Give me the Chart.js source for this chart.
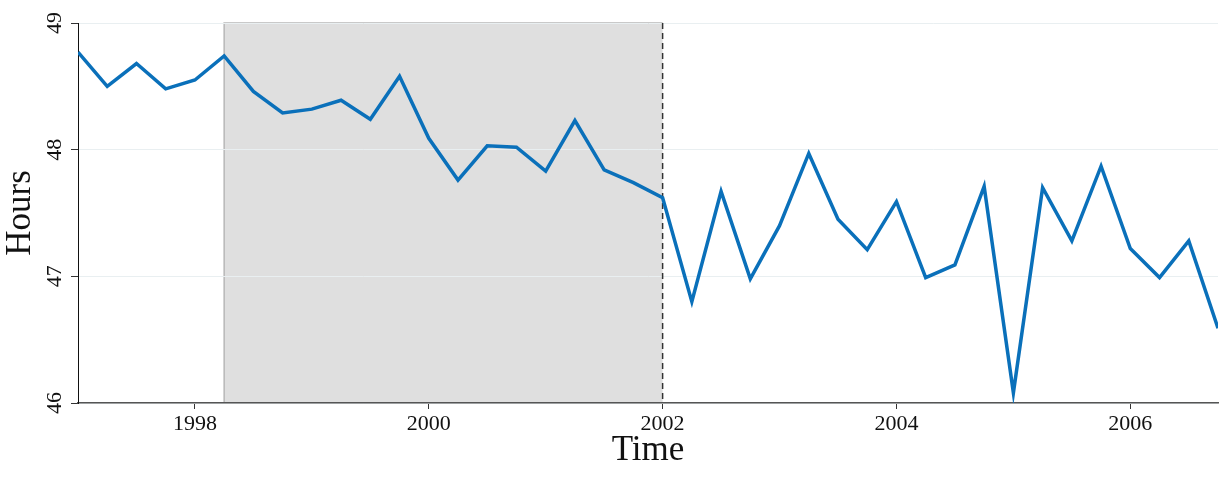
<!DOCTYPE html>
<html>
<head>
<meta charset="utf-8">
<script src="https://cdn.jsdelivr.net/npm/chart.js@4/dist/chart.umd.min.js"></script>
<style>
  html, body { margin: 0; padding: 0; background: #fff; }
  #wrap { width: 1225px; height: 487px; }
</style>
</head>
<body>
<div id="wrap"><canvas id="hoursChart"></canvas></div>
<script>
// Quarterly observations
const times = [
    1997.00, 1997.25, 1997.50, 1997.75, 1998.00, 1998.25, 1998.50, 1998.75,
    1999.00, 1999.25, 1999.50, 1999.75, 2000.00, 2000.25, 2000.50, 2000.75,
    2001.00, 2001.25, 2001.50, 2001.75, 2002.00, 2002.25, 2002.50, 2002.75,
    2003.00, 2003.25, 2003.50, 2003.75, 2004.00, 2004.25, 2004.50, 2004.75,
    2005.00, 2005.25, 2005.50, 2005.75, 2006.00, 2006.25, 2006.50, 2006.75
];
const hours = [
    48.77, 48.50, 48.68, 48.48, 48.55, 48.74, 48.46, 48.29,
    48.32, 48.39, 48.24, 48.58, 48.09, 47.76, 48.03, 48.02,
    47.83, 48.23, 47.84, 47.74, 47.62, 46.80, 47.67, 46.98,
    47.40, 47.97, 47.45, 47.21, 47.59, 46.99, 47.09, 47.71,
    46.08, 47.70, 47.28, 47.87, 47.22, 46.99, 47.28, 46.59
];
const xTicks = [1998, 2000, 2002, 2004, 2006];
const yTicks = [46, 47, 48, 49];
const shadeStart = 1998.25;
const shadeEnd = 2002;

const FONT = "'Liberation Serif', 'DejaVu Serif', serif";

// shaded period + dashed marker
const shadePlugin = {
    id: 'shade',
    beforeDraw(chart) {
        const { ctx, chartArea, scales } = chart;
        const x0 = scales.x.getPixelForValue(shadeStart);
        const x1 = scales.x.getPixelForValue(shadeEnd);
        ctx.save();
        ctx.fillStyle = '#dfdfdf';
        ctx.fillRect(x0, chartArea.top, x1 - x0, chartArea.bottom - chartArea.top);
        ctx.strokeStyle = '#b8b8b8';
        ctx.lineWidth = 1.5;
        ctx.beginPath();
        ctx.moveTo(x0, chartArea.bottom);
        ctx.lineTo(x0, chartArea.top);
        ctx.lineTo(x1, chartArea.top);
        ctx.stroke();
        ctx.restore();
    },
    beforeDatasetsDraw(chart) {
        const { ctx, chartArea, scales } = chart;
        const x1 = scales.x.getPixelForValue(shadeEnd);
        ctx.save();
        ctx.strokeStyle = '#333';
        ctx.lineWidth = 1.5;
        ctx.setLineDash([6, 4]);
        ctx.beginPath();
        ctx.moveTo(x1, chartArea.top);
        ctx.lineTo(x1, chartArea.bottom);
        ctx.stroke();
        ctx.restore();
    },
    // y tick labels, rotated and centred on their ticks
    afterDraw(chart) {
        const { ctx, scales } = chart;
        const y = scales.y;
        ctx.save();
        ctx.fillStyle = '#111';
        ctx.font = '22px ' + FONT;
        ctx.textAlign = 'center';
        ctx.textBaseline = 'middle';
        yTicks.forEach(v => {
            ctx.save();
            ctx.translate(y.left + 55, y.getPixelForValue(v));
            ctx.rotate(-Math.PI / 2);
            ctx.fillText(String(v), 0, 0);
            ctx.restore();
        });
        ctx.restore();
    }
};

function initChart() {
    const ctx = document.getElementById('hoursChart').getContext('2d');
    new Chart(ctx, {
        type: 'line',
        data: {
            datasets: [{
                data: times.map((t, i) => ({ x: t, y: hours[i] })),
                borderColor: '#0a70ba',
                borderWidth: 3.5,
                pointRadius: 0,
                tension: 0,
                fill: false
            }]
        },
        options: {
            responsive: true,
            maintainAspectRatio: false,
            animation: false,
            layout: { padding: { top: 23, right: 7, left: 0, bottom: 0 } },
            plugins: {
                legend: { display: false },
                tooltip: { enabled: false }
            },
            scales: {
                x: {
                    type: 'linear',
                    min: 1997,
                    max: 2006.75,
                    afterBuildTicks: s => { s.ticks = xTicks.map(v => ({ value: v })); },
                    afterFit: s => { s.height = 84; },
                    border: { color: '#555', width: 1.5 },
                    grid: { drawOnChartArea: false, tickLength: 6, tickColor: '#333' },
                    ticks: {
                        color: '#111',
                        font: { family: FONT, size: 22 },
                        padding: 2,
                        maxRotation: 0,
                        callback: v => String(v)
                    },
                    title: {
                        display: true,
                        text: 'Time',
                        color: '#111',
                        font: { family: FONT, size: 35 },
                        padding: { top: 0, bottom: 15 }
                    }
                },
                y: {
                    min: 46,
                    max: 49,
                    afterBuildTicks: s => { s.ticks = yTicks.map(v => ({ value: v })); },
                    afterFit: s => { s.width = 78; },
                    border: { color: '#111', width: 1 },
                    grid: { color: '#e9eff1', lineWidth: 1, tickLength: 7, tickColor: '#333' },
                    ticks: { display: false },
                    title: {
                        display: true,
                        text: 'Hours',
                        color: '#111',
                        font: { family: FONT, size: 35 },
                        padding: { top: 0, bottom: 0 }
                    }
                }
            }
        },
        plugins: [shadePlugin]
    });
}

document.addEventListener('DOMContentLoaded', initChart);
</script>
</body>
</html>
